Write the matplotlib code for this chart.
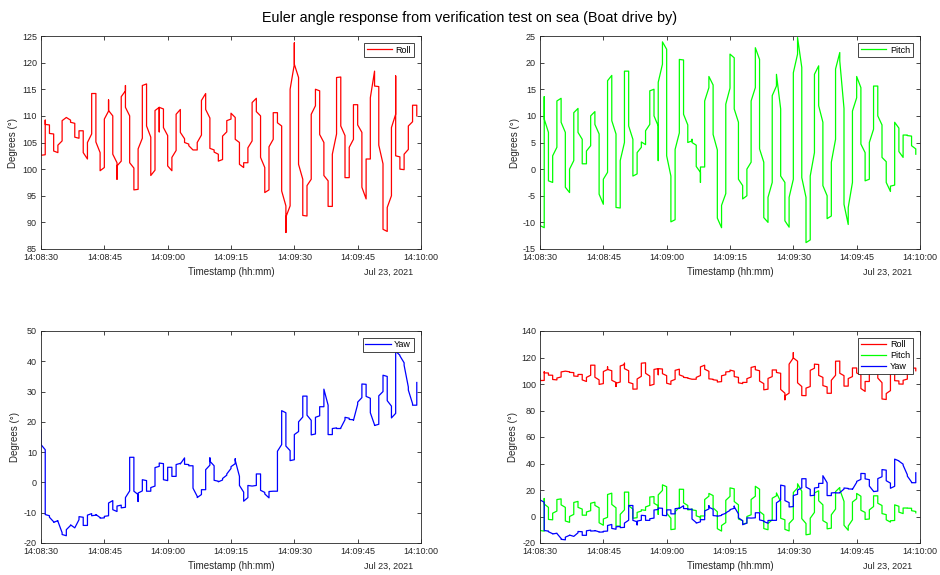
import numpy as np
import matplotlib.pyplot as plt

plt.rcParams['font.family'] = ['Liberation Sans', 'DejaVu Sans']
plt.rcParams['axes.unicode_minus'] = False

# --------------------------------------------------------
# Data: samples grouped per second after 14:08:30
# (several samples share one timestamp -> vertical jumps)
# --------------------------------------------------------

ROLL = [
    [104.0, 102.6], [102.7, 109.2, 108.4], [108.3, 106.7], [106.6, 103.4],
    [103.1, 104.5], [105.3, 109.1], [109.7], [109.2, 108.8], [108.6, 106.0],
    [105.8, 107.2], [107.2, 103.1], [101.9, 105.0], [106.6, 114.2],
    [114.2, 105.1], [103.1, 99.7], [100.3, 109.4], [110.9, 113.0, 111.0],
    [110.0, 102.8], [101.2, 98.1, 100.6], [101.5, 113.6], [114.7, 115.7, 111.6],
    [110.0, 101.2], [100.2, 96.1], [96.2, 103.8], [105.8, 115.7], [116.0, 108.1],
    [106.0, 98.8], [99.8, 111.0], [111.6, 107.0, 111.6], [111.3, 107.8],
    [106.3, 100.6], [99.7, 102.2], [103.5, 110.3], [111.2, 106.9], [105.7, 105.0],
    [104.7, 104.4], [103.6], [103.6, 105.0], [106.4, 112.9], [114.2, 111.2],
    [109.6, 103.9], [103.6, 103.2], [102.8, 101.5], [101.8, 106.2], [107.0, 109.1],
    [109.4, 110.5], [109.7, 105.6], [105.0, 100.9], [100.3, 101.2], [101.2, 104.0],
    [105.3, 112.5], [113.3, 110.8], [110.0, 102.2], [100.3, 95.6], [96.1, 104.2],
    [105.6, 110.6], [110.6, 108.7], [108.1, 95.9], [93.1, 88.1, 91.0], [93.1, 115.0],
    [119.7, 123.7, 119.7], [117.2, 100.9], [98.1, 91.3], [91.2, 96.9], [98.1, 110.3],
    [111.9, 115.0], [114.7, 106.5], [105.0, 98.8], [97.8, 93.0], [93.0, 102.8],
    [106.6, 117.2], [117.3, 108.1], [106.3, 98.4], [98.4, 104.1], [105.6, 112.1],
    [112.1, 108.3], [106.9, 96.6], [94.4, 101.9], [101.9, 113.4], [118.4, 115.6],
    [115.5, 104.5], [101.0, 88.7], [88.3, 92.8], [95.0, 107.8], [110.3, 117.5, 102.5],
    [102.3, 100.0], [99.9, 102.8], [103.7, 108.1], [108.9, 112.0], [112.0, 110.0],
]

PITCH = [
    [-0.3, -10.6], [-11.0, 13.6, 9.4], [6.9, -2.2], [-2.5, 2.5], [4.1, 12.8],
    [13.3, 8.8], [6.9, -3.4], [-4.4, 0.0], [1.6, 10.6], [11.4, 6.9], [5.6, 1.0],
    [1.0, 3.4], [4.4, 10.0], [10.8, 8.4], [6.6, -4.7], [-6.6, -1.9], [-0.6, 16.6],
    [17.6, 9.1], [6.6, -7.2], [-7.3, 1.6], [5.0, 18.4], [18.4, 8.1], [5.6, -1.3],
    [-0.9, 3.1], [4.1, 5.1], [4.6, 7.2], [8.4, 14.7], [15.0, 10.0], [8.1, 1.6, 16.3],
    [19.7, 23.9], [22.5, 2.5], [-1.3, -9.9], [-9.5, 3.7], [6.8, 20.6], [20.5, 10.3],
    [8.3, 5.0], [5.3, 5.6, 5.0], [4.5, 0.5], [-0.6, -2.5, 0.4], [0.4, 12.8],
    [15.3, 17.4], [15.8, 6.5], [3.6, -9.2], [-11.0, -6.8], [-4.6, 12.2],
    [15.2, 21.6], [20.9, 11.3], [8.8, -1.9], [-3.1, -5.6], [-5.0, 0.0], [1.3, 12.8],
    [15.3, 22.8], [20.6, 3.8], [1.3, -9.1], [-10.0, -5.3], [-2.5, 13.8], [15.6, 17.8],
    [11.3, -1.3], [-2.5, -9.7], [-10.9, -5.3], [-1.9, 18.1], [21.6, 24.7], [19.1, -1.6],
    [-5.3, -13.8], [-13.3, -1.3], [3.1, 17.8], [19.4, 11.9], [8.8, -3.1], [-5.0, -9.3],
    [-8.8, 1.3], [5.6, 18.8], [21.9, 20.3], [11.4, -6.6], [-10.4, -7.2], [-2.5, 10.9],
    [13.4, 17.4], [15.3, 4.7], [3.1, -2.2], [-1.9, 5.0], [7.5, 15.6], [15.6, 10.0],
    [8.3, 2.2], [1.4, -2.5], [-4.2, -3.2], [-3.0, 8.8], [7.7, 3.3], [2.2, 3.0, 6.4],
    [6.4, 6.3], [6.2, 4.4], [3.8, 2.8],
]

YAW = [
    [17.4, 12.5], [10.8, -10.6], [-11.0, -11.5], [-13.0, -13.2], [-12.6, -12.8],
    [-16.6, -17.2], [-17.6, -15.6], [-14.2, -14.0], [-15.0, -15.0], [-12.3, -11.3],
    [-11.5, -14.2], [-14.2, -10.8], [-10.3, -11.0], [-10.8, -10.6], [-11.6, -11.8],
    [-11.7, -11.2], [-11.0, -6.8], [-6.0, -9.0], [-9.6, -7.8], [-7.5, -8.4],
    [-8.2, -5.0], [-2.8, 8.3], [8.3, -2.9], [-4.0, -6.3, -3.5], [-2.8, 0.9],
    [0.6, -2.9], [-2.9, -1.7], [-1.2, 4.9], [5.3, 6.4], [6.2, 0.9], [0.6, 5.0],
    [5.0, 2.0], [2.0, 5.9], [6.3, 6.1], [8.1, 6.0], [5.9, 5.5], [5.5, -1.9],
    [-4.6, -5.0], [-4.0, -2.4], [-2.4, 4.2], [5.7, 8.1, 7.0], [5.5, 0.7], [0.4, 0.2],
    [0.8, 1.3], [2.4, 2.8], [4.6, 5.2], [6.2, 7.8, 7.3], [2.0, -1.0], [-3.2, -6.2],
    [-5.0, -1.0], [-1.2, -1.2], [-1.0, 2.8], [2.8, -2.6], [-3.3, -3.8], [-5.1, -3.0],
    [-2.9, -2.9], [-2.9, 10.3], [12.5, 23.7], [23.0, 12.0], [10.5, 7.2], [7.5, 15.8],
    [16.8, 20.0], [21.6, 28.5], [28.5, 22.2], [20.5, 15.7], [16.0, 21.5], [22.0, 25.0],
    [25.0, 29.5, 30.8], [25.5, 15.8], [15.8, 17.8], [18.0, 17.8], [17.8, 18.0],
    [20.7, 21.5], [21.2, 20.8], [20.7, 20.5], [25.8, 26.5], [28.0, 32.5], [32.4, 28.4],
    [27.8, 23.0], [19.0, 18.8], [19.2, 28.6], [30.0, 35.4], [35.0, 27.0], [25.2, 21.3],
    [22.8, 43.3], [42.0, 41.8], [39.5, 38.7], [31.5, 30.5], [26.0, 25.5], [25.5, 33.0],
]

TICK_SECONDS = [0, 15, 30, 45, 60, 75, 90]
TICK_LABELS = ["14:08:30", "14:08:45", "14:09:00", "14:09:15",
               "14:09:30", "14:09:45", "14:10:00"]
DATE_LABEL = "Jul 23, 2021"


def expand(samples):
    t, v = [], []
    for sec, vals in enumerate(samples):
        for val in vals:
            t.append(sec)
            v.append(val)
    return np.array(t, dtype=float), np.array(v)


INK = "#262626"
FS = 6.5


def style(ax, ylim, yticks, ylab_x):
    ax.set_xlim(0, 90)
    ax.set_ylim(*ylim)
    ax.set_xticks(TICK_SECONDS)
    ax.set_xticklabels(TICK_LABELS)
    ax.set_yticks(yticks)
    ax.tick_params(direction="in", length=3, width=0.6, labelsize=FS,
                   colors=INK, top=True, right=True, pad=3)
    for s in ax.spines.values():
        s.set_color(INK)
        s.set_linewidth(0.6)
    ax.set_xlabel("Timestamp (hh:mm)", fontsize=7, color=INK)
    ax.xaxis.label.set_va("center")
    ax.xaxis.set_label_coords(0.5, -0.108)
    ax.set_ylabel("Degrees (°)", fontsize=7, color=INK)
    ax.yaxis.label.set_va("center")
    ax.yaxis.set_label_coords(ylab_x, 0.5)
    ax.text(0.979, -0.108, DATE_LABEL, transform=ax.transAxes, ha="right",
            va="center", fontsize=FS, color=INK)
    leg = ax.legend(loc="upper right", fontsize=FS, handlelength=2.8,
                    fancybox=False, framealpha=1, borderpad=0.3,
                    labelspacing=0.2, handletextpad=0.4, borderaxespad=0,
                    bbox_to_anchor=(0.981, 0.968))
    leg.get_frame().set_edgecolor(INK)
    leg.get_frame().set_linewidth(0.6)


fig = plt.figure(figsize=(9.4, 5.75), dpi=100)

W, H = 940, 575


def axes_px(left, top, right, bottom):
    return fig.add_axes([left / W, 1 - bottom / H, (right - left) / W, (bottom - top) / H])


ax_roll = axes_px(41, 36, 421, 249)
ax_pitch = axes_px(540, 36, 920, 249)
ax_yaw = axes_px(41, 331, 421, 543)
ax_all = axes_px(540, 331, 920, 543)

rt, rv = expand(ROLL)
pt, pv = expand(PITCH)
yt, yv = expand(YAW)

LW = 0.9

ax_roll.plot(rt, rv, color=(1, 0, 0), lw=LW, label="Roll")
style(ax_roll, (85, 125), np.arange(85, 126, 5), -0.074)

ax_pitch.plot(pt, pv, color=(0, 1, 0), lw=LW, label="Pitch")
style(ax_pitch, (-15, 25), np.arange(-15, 26, 5), -0.066)

ax_yaw.plot(yt, yv, color=(0, 0, 1), lw=LW, label="Yaw")
style(ax_yaw, (-20, 50), np.arange(-20, 51, 10), -0.068)

ax_all.plot(rt, rv, color=(1, 0, 0), lw=LW, label="Roll")
ax_all.plot(pt, pv, color=(0, 1, 0), lw=LW, label="Pitch")
ax_all.plot(yt, yv, color=(0, 0, 1), lw=LW, label="Yaw")
style(ax_all, (-20, 140), np.arange(-20, 141, 20), -0.071)

fig.text(0.5, 1 - 18 / H, "Euler angle response from verification test on sea (Boat drive by)",
         ha="center", va="center", fontsize=10.4, color="black")

fig.savefig("out.png", dpi=100)
